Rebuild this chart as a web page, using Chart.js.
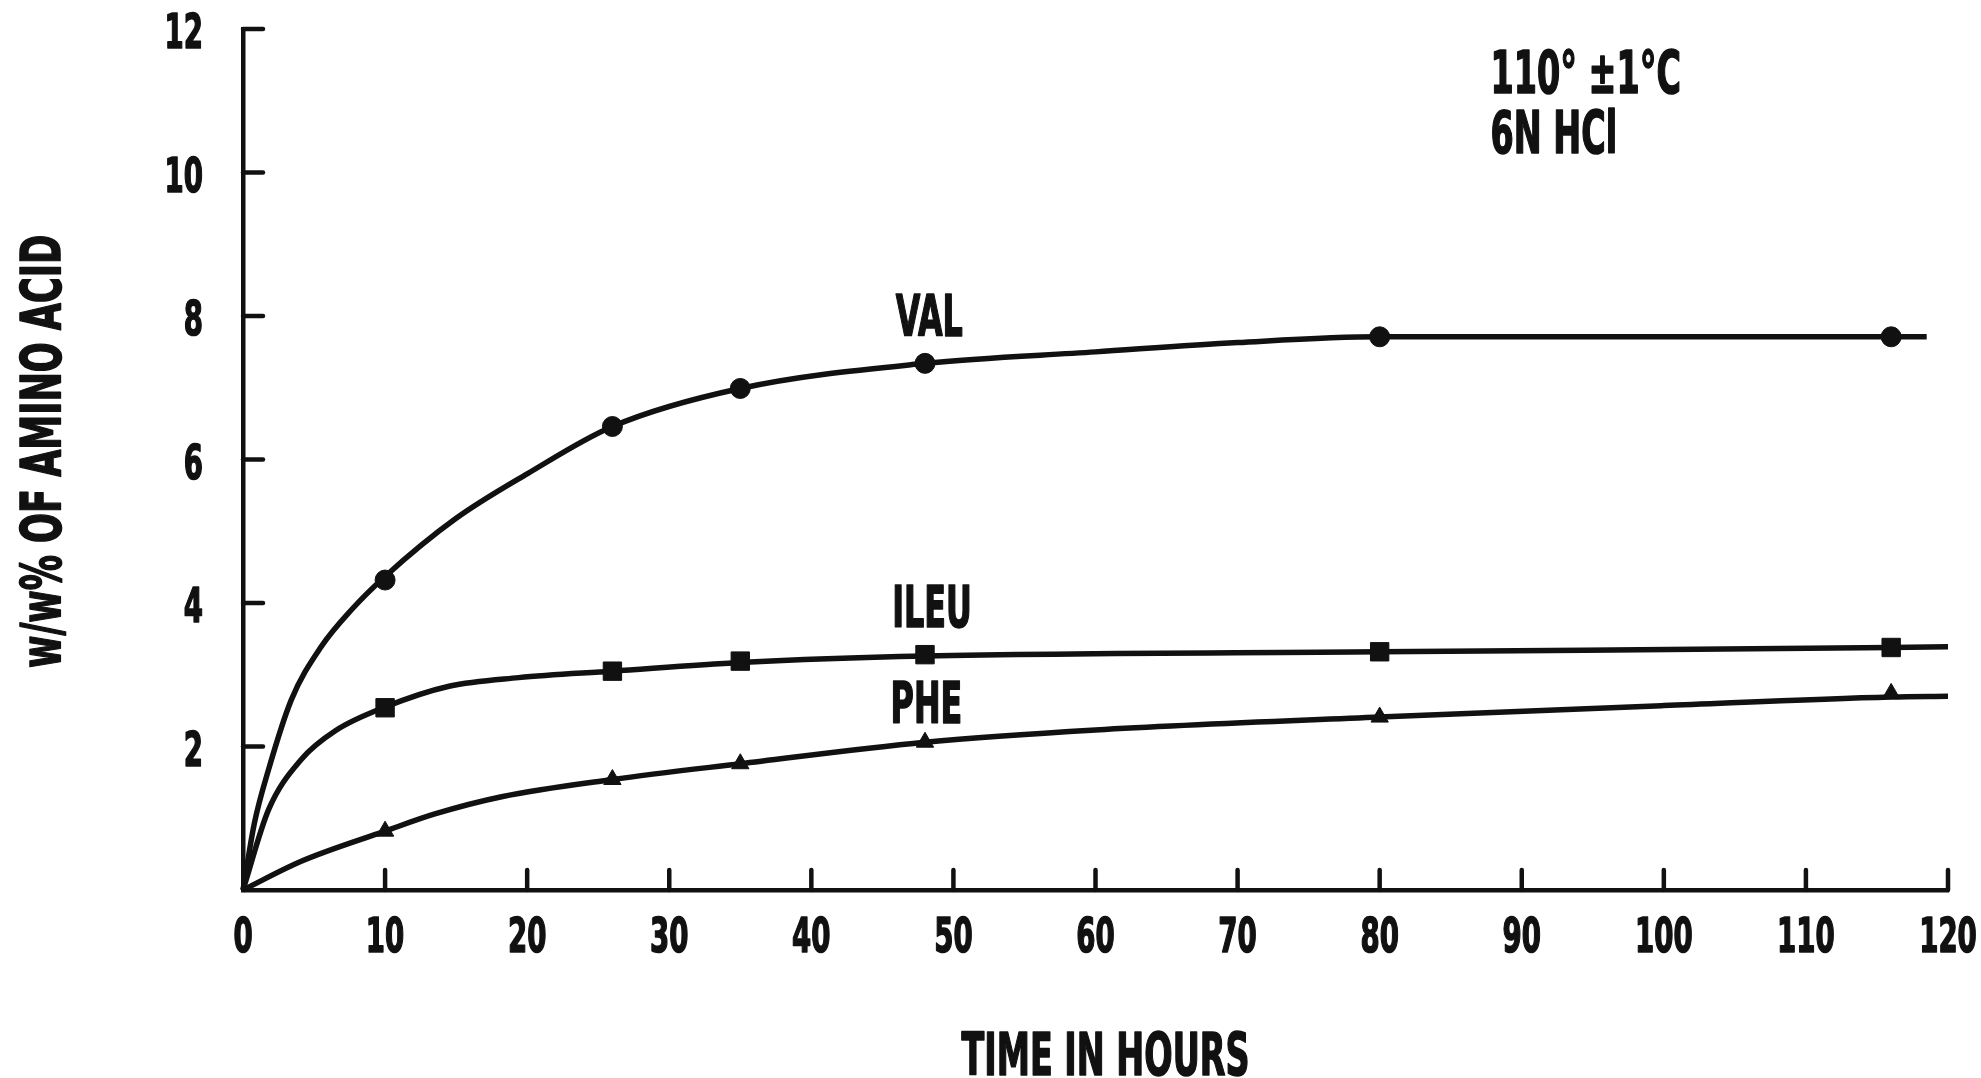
<!DOCTYPE html>
<html>
<head>
<meta charset="utf-8">
<script src="https://cdn.jsdelivr.net/npm/chart.js@4/dist/chart.umd.min.js"></script>
<style>
  html, body { margin: 0; padding: 0; background: #ffffff; }
  #wrap { width: 1981px; height: 1078px; position: relative; }
</style>
</head>
<body>
<div id="wrap"><canvas id="c" width="1981" height="1078"></canvas></div>
<script>
// ---- data ----
const seriesNames = ['VAL', 'ILEU', 'PHE'];
const markerHours = [10, 26, 35, 48, 80, 116];
const valMarkers  = [4.32, 6.46, 6.99, 7.34, 7.71, 7.71];
const ileuMarkers = [2.54, 3.05, 3.19, 3.28, 3.32, 3.38];
const pheMarkers  = [0.82, 1.54, 1.76, 2.06, 2.41, 2.74];

// drawn smooth curves
const valCurveHours  = [0, 0.8, 1.8, 3.4, 5.5, 7.7, 10, 15, 20, 26, 35, 48, 60, 70, 80, 100, 116, 118.5];
const valCurve       = [0, 0.93, 1.68, 2.65, 3.39, 3.92, 4.37, 5.18, 5.80, 6.46, 6.99, 7.34, 7.50, 7.63, 7.71, 7.71, 7.71, 7.71];
const ileuCurveHours = [0, 1.8, 4.1, 6.5, 10, 14.5, 19.4, 26, 35, 48, 80, 116, 120];
const ileuCurve      = [0, 1.12, 1.82, 2.22, 2.55, 2.84, 2.96, 3.05, 3.17, 3.26, 3.32, 3.38, 3.39];
const pheCurveHours  = [0, 4.1, 10, 13.5, 18.2, 26, 35, 48, 60, 80, 100, 116, 120];
const pheCurve       = [0, 0.40, 0.82, 1.06, 1.30, 1.54, 1.76, 2.06, 2.23, 2.41, 2.57, 2.69, 2.70];

const xTicks = [0, 10, 20, 30, 40, 50, 60, 70, 80, 90, 100, 110, 120];
const yTicks = [2, 4, 6, 8, 10, 12];

const xTitle = 'TIME IN HOURS';
const yTitle = 'w/w% OF AMINO ACID';
// label anchor positions in data units: [hours, value]
const seriesLabelPos = [[48.3, 8.01], [48.5, 3.95], [48.1, 2.62]];
const noteLines = ['110\u00B0 \u00B11\u00B0C', '6N HCl'];
const notePos = [[87.8, 11.4], [87.8, 10.57]];

// ---- styling ----
const INK = '#111111';
const FONT = "'Liberation Sans Narrow', 'DejaVu Sans Condensed', 'Liberation Sans', sans-serif";
const CAP = 0.729;

function pts(xs, ys) { return xs.map((x, i) => ({ x: x, y: ys[i] })); }

function curveDs(xs, ys) {
  return {
    data: pts(xs, ys), showLine: true, borderColor: INK, borderWidth: 5.5, pointRadius: 0,
    cubicInterpolationMode: 'monotone', fill: false, clip: false, order: 2
  };
}
function markerDs(ys, style, r) {
  return {
    data: pts(markerHours, ys), showLine: false, pointStyle: style, pointRadius: r,
    pointBackgroundColor: INK, pointBorderColor: INK, pointBorderWidth: 1, clip: false, order: 1
  };
}

// condensed text helper: (x,y) is the cap-centre for 'center', left edge for 'left', right edge for 'right'
function condText(ctx, t, x, y, size, sx, align, rot) {
  ctx.save();
  ctx.translate(x, y);
  if (rot) ctx.rotate(rot);
  ctx.scale(sx, 1);
  ctx.font = 'bold ' + size + 'px ' + FONT;
  ctx.textAlign = align;
  ctx.textBaseline = 'alphabetic';
  ctx.lineWidth = 1.6;
  ctx.lineJoin = 'round';
  ctx.strokeStyle = INK;
  ctx.fillText(t, 0, size * CAP / 2);
  ctx.strokeText(t, 0, size * CAP / 2);
  ctx.restore();
}

const innerTicks = {
  id: 'innerTicks',
  afterDraw(chart) {
    const ctx = chart.ctx, xs = chart.scales.x, ys = chart.scales.y;
    const a = chart.chartArea;
    ctx.save();
    ctx.strokeStyle = INK; ctx.lineWidth = 4.5; ctx.lineCap = 'round';
    xs.ticks.forEach(t => {
      if (t.value === 0) return;
      const px = xs.getPixelForValue(t.value);
      ctx.beginPath(); ctx.moveTo(px, a.bottom); ctx.lineTo(px, a.bottom - 20); ctx.stroke();
    });
    ys.ticks.forEach(t => {
      const py = ys.getPixelForValue(t.value);
      ctx.beginPath(); ctx.moveTo(a.left, py); ctx.lineTo(a.left + 20, py); ctx.stroke();
    });
    ctx.restore();
  }
};

const textLabels = {
  id: 'textLabels',
  afterDraw(chart) {
    const ctx = chart.ctx, xs = chart.scales.x, ys = chart.scales.y;
    const a = chart.chartArea;
    ctx.save();
    ctx.fillStyle = INK;
    // tick labels
    xs.ticks.forEach(t => {
      condText(ctx, String(t.value), xs.getPixelForValue(t.value), a.bottom + 45, 48, 0.64, 'center');
    });
    ys.ticks.forEach(t => {
      condText(ctx, String(t.value), a.left - 40, ys.getPixelForValue(t.value) + 2, 48, 0.64, 'right');
    });
    // axis titles
    condText(ctx, xTitle, (a.left + a.right) / 2 + 10, a.bottom + 164, 58, 0.64, 'center');
    condText(ctx, yTitle, 40, (a.top + a.bottom) / 2 - 8, 55, 0.71, 'center', -Math.PI / 2);
    // series labels
    seriesNames.forEach((t, i) => {
      condText(ctx, t, xs.getPixelForValue(seriesLabelPos[i][0]), ys.getPixelForValue(seriesLabelPos[i][1]), 57, 0.62, 'center');
    });
    noteLines.forEach((t, i) => {
      condText(ctx, t, xs.getPixelForValue(notePos[i][0]), ys.getPixelForValue(notePos[i][1]), 58, 0.64, 'left');
    });
    ctx.restore();
  }
};

new Chart(document.getElementById('c'), {
  type: 'scatter',
  data: {
    datasets: [
      curveDs(valCurveHours, valCurve),
      curveDs(ileuCurveHours, ileuCurve),
      curveDs(pheCurveHours, pheCurve),
      markerDs(valMarkers, 'circle', 10),
      markerDs(ileuMarkers, 'rect', 13),
      markerDs(pheMarkers, 'triangle', 10)
    ]
  },
  options: {
    responsive: false, animation: false, devicePixelRatio: 1,
    layout: { padding: { top: 29, right: 33, bottom: 0, left: 0 } },
    plugins: { legend: { display: false }, tooltip: { enabled: false } },
    scales: {
      x: {
        type: 'linear', min: 0, max: 120,
        afterBuildTicks(s) { s.ticks = xTicks.map(v => ({ value: v })); },
        afterFit(s) { s.height = 188; },
        grid: { display: true, drawOnChartArea: false, drawTicks: false },
        border: { display: true, color: INK, width: 4.5 },
        ticks: { display: false },
        title: { display: false, text: xTitle }
      },
      y: {
        type: 'linear', min: 0, max: 12,
        afterBuildTicks(s) { s.ticks = yTicks.map(v => ({ value: v })); },
        afterFit(s) { s.width = 243; },
        grid: { display: true, drawOnChartArea: false, drawTicks: false },
        border: { display: true, color: INK, width: 4.5 },
        ticks: { display: false },
        title: { display: false, text: yTitle }
      }
    }
  },
  plugins: [innerTicks, textLabels]
});
</script>
</body>
</html>
